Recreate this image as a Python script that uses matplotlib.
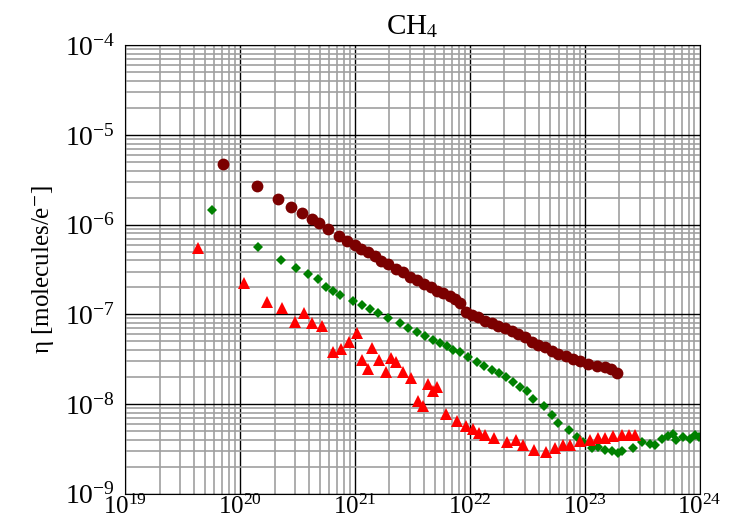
import matplotlib.pyplot as plt
from matplotlib.ticker import LogLocator, LogFormatterMathtext, NullFormatter

plt.rcParams['font.family'] = ['Liberation Serif', 'DejaVu Serif']
plt.rcParams['mathtext.fontset'] = 'stix'

# dark red circles
circ_x = [7.12e19, 1.41e20, 2.14e20, 2.77e20, 3.46e20, 4.23e20, 4.86e20, 5.82e20,
          7.26e20, 8.51e20, 1.00e21, 1.13e21, 1.30e21, 1.49e21, 1.68e21, 1.94e21,
          2.27e21, 2.61e21, 3.01e21, 3.46e21, 3.98e21, 4.58e21, 5.17e21, 5.82e21,
          6.70e21, 7.41e21, 8.19e21, 9.23e21, 1.04e22, 1.17e22, 1.35e22, 1.55e22,
          1.75e22, 2.01e22, 2.32e22, 2.61e22, 3.01e22, 3.46e22, 3.90e22, 4.49e22,
          5.16e22, 5.82e22, 6.84e22, 7.87e22, 9.05e22, 1.06e23, 1.27e23, 1.49e23,
          1.68e23, 1.90e23]
circ_y = [4.70e-6, 2.68e-6, 1.92e-6, 1.56e-6, 1.34e-6, 1.15e-6, 1.04e-6, 8.91e-7,
          7.45e-7, 6.56e-7, 5.92e-7, 5.35e-7, 4.95e-7, 4.47e-7, 3.93e-7, 3.64e-7,
          3.21e-7, 2.97e-7, 2.61e-7, 2.42e-7, 2.18e-7, 2.02e-7, 1.82e-7, 1.73e-7,
          1.61e-7, 1.49e-7, 1.34e-7, 1.07e-7, 9.87e-8, 9.38e-8, 8.47e-8, 8.05e-8,
          7.45e-8, 7.08e-8, 6.56e-8, 6.07e-8, 5.62e-8, 4.95e-8, 4.58e-8, 4.35e-8,
          3.93e-8, 3.64e-8, 3.46e-8, 3.21e-8, 3.04e-8, 2.82e-8, 2.68e-8, 2.61e-8,
          2.48e-8, 2.24e-8]

# green diamonds
diam_x = [5.71e19, 1.44e20, 2.27e20, 3.07e20, 3.90e20, 4.77e20, 5.60e20, 6.44e20,
          7.41e20, 9.61e20, 1.15e21, 1.35e21, 1.58e21, 1.94e21, 2.46e21, 2.89e21,
          3.46e21, 4.06e21, 4.77e21, 5.48e21, 6.31e21, 7.11e21, 8.19e21, 9.61e21,
          1.15e22, 1.32e22, 1.55e22, 1.79e22, 2.06e22, 2.37e22, 2.72e22, 3.13e22,
          3.53e22, 4.40e22, 5.16e22, 5.82e22, 7.26e22, 8.51e22, 9.61e22, 1.15e23,
          1.30e23, 1.49e23, 1.72e23, 1.94e23, 2.10e23, 2.61e23, 3.13e23, 3.67e23,
          4.06e23, 4.68e23, 5.27e23, 5.82e23, 6.18e23, 7.11e23, 8.19e23, 9.05e23,
          9.80e23]
diam_y = [1.45e-6, 5.62e-7, 4.03e-7, 3.29e-7, 2.82e-7, 2.48e-7, 2.02e-7, 1.82e-7,
          1.65e-7, 1.41e-7, 1.28e-7, 1.15e-7, 1.04e-7, 9.14e-8, 8.05e-8, 7.08e-8,
          6.39e-8, 5.77e-8, 5.21e-8, 4.82e-8, 4.47e-8, 4.03e-8, 3.83e-8, 3.37e-8,
          2.97e-8, 2.68e-8, 2.42e-8, 2.24e-8, 2.02e-8, 1.78e-8, 1.56e-8, 1.38e-8,
          1.15e-8, 9.38e-9, 7.45e-9, 6.07e-9, 5.08e-9, 4.25e-9, 3.73e-9, 3.21e-9,
          3.29e-9, 3.04e-9, 2.97e-9, 2.82e-9, 2.97e-9, 3.21e-9, 3.73e-9, 3.55e-9,
          3.46e-9, 4.03e-9, 4.35e-9, 4.58e-9, 3.93e-9, 4.25e-9, 4.03e-9, 4.47e-9,
          4.25e-9]

# red triangles
tri_x = [4.31e19, 1.08e20, 1.72e20, 2.32e20, 3.01e20, 3.60e20, 4.23e20, 5.16e20,
         6.44e20, 7.55e20, 8.87e20, 1.04e21, 1.15e21, 1.30e21, 1.41e21, 1.62e21,
         1.86e21, 2.06e21, 2.27e21, 2.61e21, 3.07e21, 3.53e21, 3.90e21, 4.31e21,
         4.77e21, 5.17e21, 6.18e21, 7.71e21, 9.23e21, 1.06e22, 1.20e22, 1.35e22,
         1.62e22, 2.10e22, 2.51e22, 2.89e22, 3.60e22, 4.58e22, 5.48e22, 6.44e22,
         7.41e22, 9.05e22, 1.10e23, 1.30e23, 1.49e23, 1.75e23, 2.10e23, 2.41e23,
         2.72e23]
tri_y = [5.48e-7, 2.24e-7, 1.38e-7, 1.18e-7, 8.27e-8, 1.04e-7, 8.05e-8, 7.45e-8,
         3.83e-8, 4.14e-8, 4.95e-8, 6.22e-8, 3.12e-8, 2.48e-8, 4.25e-8, 3.12e-8,
         2.30e-8, 3.29e-8, 2.97e-8, 2.30e-8, 1.97e-8, 1.07e-8, 9.62e-9, 1.69e-8,
         1.41e-8, 1.56e-8, 7.83e-9, 6.39e-9, 5.62e-9, 5.21e-9, 4.70e-9, 4.47e-9,
         4.14e-9, 3.73e-9, 3.93e-9, 3.46e-9, 3.04e-9, 2.89e-9, 3.21e-9, 3.46e-9,
         3.46e-9, 3.83e-9, 3.93e-9, 4.14e-9, 4.14e-9, 4.35e-9, 4.47e-9, 4.47e-9,
         4.47e-9]

fig = plt.figure(figsize=(7.35, 5.32), dpi=100)
ax = fig.add_axes([0.170, 0.072, 0.782, 0.843])

ax.plot(circ_x, circ_y, 'o', color='#7b0000', markersize=8.5, markeredgewidth=0)
ax.plot(diam_x, diam_y, 'D', color='#008000', markersize=5.5, markeredgewidth=0)
ax.plot(tri_x, tri_y, '^', color='#ff0000', markersize=8, markeredgewidth=0)

ax.set_xscale('log')
ax.set_yscale('log')
ax.set_xlim(1e19, 1e24)
ax.set_ylim(1e-9, 1e-4)

for axis in (ax.xaxis, ax.yaxis):
    axis.set_major_locator(LogLocator(base=10, numticks=10))
    axis.set_minor_locator(LogLocator(base=10, subs=range(2, 10), numticks=100))
    axis.set_major_formatter(LogFormatterMathtext())
    axis.set_minor_formatter(NullFormatter())

ax.grid(True, which='minor', color='#a0a0a0', linewidth=1.2)
ax.grid(True, which='major', color='black', linewidth=1.0)
ax.set_axisbelow(True)
ax.tick_params(which='both', length=0)
ax.tick_params(axis='x', pad=1, labelsize=18)
ax.tick_params(axis='y', pad=7, labelsize=20)

ax.set_title('CH$_4$', fontsize=21, pad=8)
ax.set_ylabel('η [molecules/e$^{-}$]', fontsize=18, labelpad=6)

fig.savefig('out.png', dpi=100)
